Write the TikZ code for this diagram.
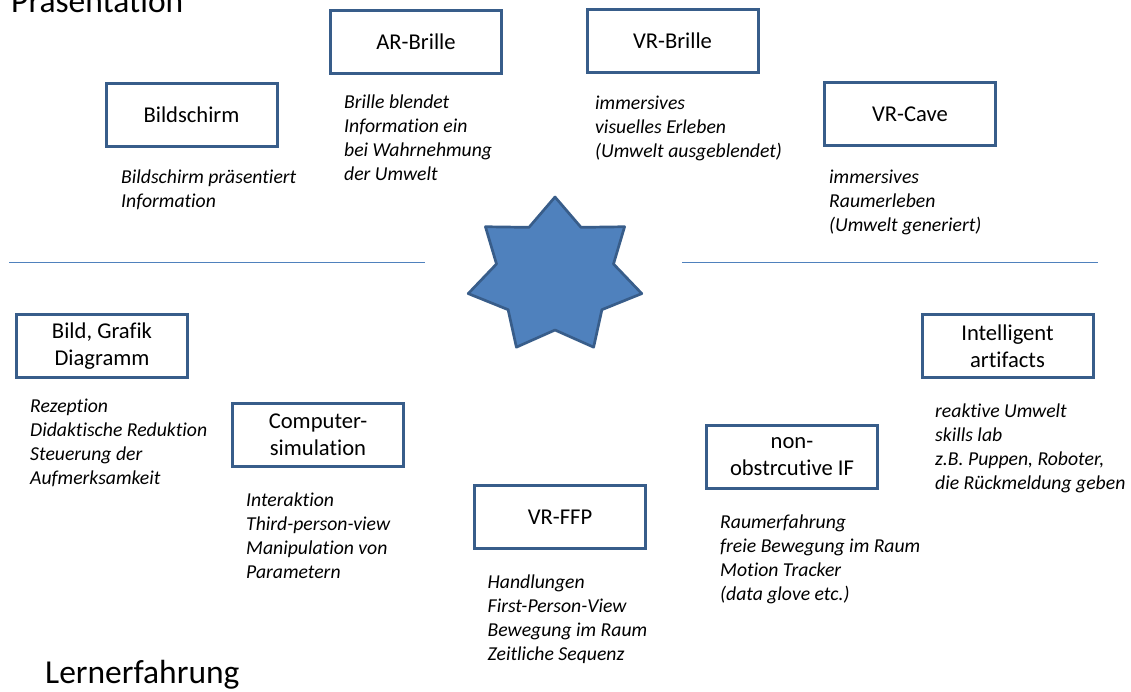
\documentclass[tikz,border=0pt]{standalone}
\usepackage{fontspec}
\setmainfont[Ligatures=NoCommon]{Carlito}
\definecolor{boxblue}{HTML}{385D8A}
\definecolor{lineblue}{HTML}{4F81BD}
\begin{document}
\begin{tikzpicture}[x=1pt,y=-1pt]
  \tikzstyle{mediumbox}=[draw=boxblue,line width=3pt,minimum width=171pt,minimum height=63pt,align=center,font=\fontsize{22.6}{27}\selectfont]
  \tikzstyle{desc}=[anchor=north west,inner sep=0pt,align=left,font=\fontsize{19.7}{24}\selectfont\itshape]
  \tikzstyle{bigtitle}=[anchor=base west,inner sep=0pt,font=\fontsize{33.5}{40}\selectfont]
  \useasboundingbox (0,0) rectangle (1131,691);
  % headings
  \node[bigtitle] (praes) at (11,12) {Präsentation};
  \node[bigtitle] (lern) at (45,683) {Lernerfahrung};
  % upper half
  \node[mediumbox] (bildschirm) at (191.5,115) {Bildschirm};
  \node[desc] at (121,170) {Bildschirm präsentiert\\Information};
  \node[mediumbox] (arbrille) at (416,42) {AR-Brille};
  \node[desc] at (344,95) {Brille blendet\\Information ein\\bei Wahrnehmung\\der Umwelt};
  \node[mediumbox] (vrbrille) at (672.5,41) {VR-Brille};
  \node[desc] at (595,96) {immersives\\visuelles Erleben\\(Umwelt ausgeblendet)};
  \node[mediumbox] (vrcave) at (910,114) {VR-Cave};
  \node[desc] at (829,170) {immersives\\Raumerleben\\(Umwelt generiert)};
  % lower half
  \node[mediumbox] (bild) at (102,346) {Bild, Grafik\\Diagramm};
  \node[desc] at (30,399) {Rezeption\\Didaktische Reduktion\\Steuerung der\\Aufmerksamkeit};
  \node[mediumbox] (simulation) at (318,435) {Computer-\\simulation};
  \node[desc] at (246,493) {Interaktion\\Third-person-view\\Manipulation von\\Parametern};
  \node[mediumbox] (vrffp) at (560,517) {VR-FFP};
  \node[desc] at (487.5,575) {Handlungen\\First-Person-View\\Bewegung im Raum\\Zeitliche Sequenz};
  \node[mediumbox] (nonobstr) at (792,457) {non-\\obstrcutive IF};
  \node[desc] at (720,515) {Raumerfahrung\\freie Bewegung im Raum\\Motion Tracker\\(data glove etc.)};
  \node[mediumbox] (artifacts) at (1007.5,346) {Intelligent\\artifacts};
  \node[desc] at (935,404) {reaktive Umwelt\\skills lab\\z.B. Puppen, Roboter,\\die Rückmeldung geben};
  % dividing lines
  \coordinate (la) at (9,262.5);
  \coordinate (lb) at (425,262.5);
  \coordinate (ra) at (682,262.5);
  \coordinate (rb) at (1098,262.5);
  \draw[lineblue,line width=1.5pt] (la) -- (lb) (ra) -- (rb);
  % seven-pointed star
  \begin{scope}[shift={(555,276)}]
    \draw[fill=lineblue,draw=boxblue,line width=2.7pt,line join=round]
      (-90:89 and 79) \foreach \k in {0,...,6} {
        -- ({-90+\k*360/7+180/7}:60 and 54) -- ({-90+(\k+1)*360/7}:89 and 79)
      } -- cycle;
  \end{scope}
\end{tikzpicture}
\end{document}
